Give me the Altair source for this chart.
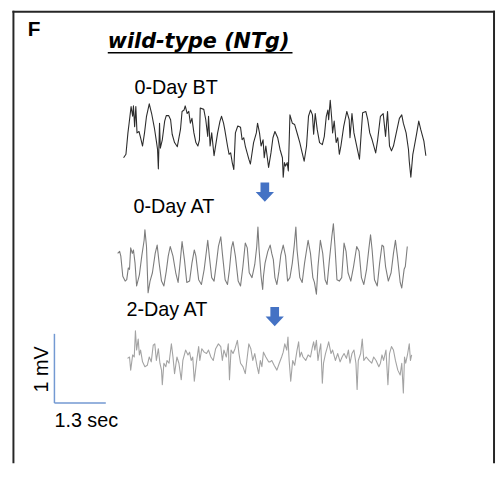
import altair as alt
import pandas as pd

# ---- EEG traces: time (s) from trace start, voltage (mV) ----
bt_t = [0, 0.06, 0.11, 0.14, 0.19, 0.23, 0.25, 0.28, 0.31, 0.34,
        0.39, 0.43, 0.48, 0.53, 0.58, 0.65, 0.71, 0.78, 0.83, 0.86,
        0.88, 0.91, 0.93, 0.98, 1.04, 1.08, 1.14, 1.19, 1.23, 1.29,
        1.36, 1.44, 1.48, 1.53, 1.56, 1.61, 1.65, 1.69, 1.73, 1.78,
        1.83, 1.88, 1.92, 1.94, 2.03, 2.08, 2.13, 2.15, 2.19, 2.23,
        2.29, 2.38, 2.44, 2.48, 2.53, 2.56, 2.63, 2.67, 2.71, 2.75,
        2.79, 2.83, 2.89, 2.96, 3.0, 3.04, 3.08, 3.17, 3.21, 3.29,
        3.36, 3.39, 3.44, 3.48, 3.53, 3.56, 3.6, 3.67, 3.73, 3.78,
        3.83, 3.9, 3.96, 4.02, 4.04, 4.07, 4.1, 4.14, 4.17, 4.21,
        4.27, 4.33, 4.4, 4.46, 4.52, 4.57, 4.63, 4.68, 4.73, 4.78,
        4.81, 4.85, 4.9, 4.96, 5.03, 5.08, 5.13, 5.17, 5.19, 5.23,
        5.27, 5.29, 5.33, 5.38, 5.42, 5.46, 5.5, 5.57, 5.65, 5.71,
        5.73, 5.78, 5.83, 5.9, 5.97, 6.02, 6.05, 6.13, 6.18, 6.23,
        6.29, 6.38, 6.43, 6.5, 6.57, 6.63, 6.68, 6.73, 6.78, 6.83,
        6.92, 6.98, 7.04, 7.08, 7.15, 7.21, 7.23, 7.27, 7.32, 7.35,
        7.42, 7.47, 7.52, 7.6, 7.65]
bt_mv = [-0.24, -0.19, 0.12, 0.26, 0.5, 0.36, 0.51, 0.21, 0.5, 0.12,
         0.14, 0.05, -0.07, 0.12, 0.36, 0.54, 0.40, 0.19, 0, -0.12,
         -0.40, 0.26, -0.10, 0.02, 0.29, 0.37, 0.37, 0.31, 0.10, -0.02,
         -0.08, 0.17, 0.43, 0.45, 0.51, 0.40, 0.43, 0.26, 0.33, 0.12,
         -0.02, -0.07, 0.02, 0.48, 0.46, 0.31, 0.07, 0.36, -0.07, 0.12,
         -0.21, 0.12, 0.29, 0.36, 0.26, 0.17, -0.07, -0.19, -0.17, -0.31,
         -0.41, 0.12, 0.22, 0.20, 0.02, 0.05, -0.07, -0.26, -0.33, -0.02,
         0.12, 0.26, 0.12, -0.07, 0.02, -0.24, -0.07, -0.38, -0.17, 0.05,
         0.14, 0.05, -0.12, -0.24, -0.52, -0.31, -0.36, -0.31, -0.43, 0.38,
         0.26, 0.24, 0.10, -0.02, -0.17, -0.29, -0.07, 0.36, 0.45, 0.38,
         0.10, 0.40, 0.17, -0.02, -0.05, 0.07, 0.36, 0.45, 0.31, 0.59,
         0.31, 0.12, 0.29, -0.02, 0.05, -0.19, -0.07, 0.21, 0.43, 0.31,
         0.05, 0.40, 0.12, -0.07, -0.26, 0.17, 0.41, 0.43, 0.31, 0.12,
         0.02, -0.17, 0.02, 0.36, 0.40, 0.07, 0.43, -0.07, -0.14, -0.07,
         0.17, 0.33, 0.38, 0.26, 0.12, -0.12, -0.29, -0.52, -0.19, -0.10,
         0.12, 0.29, 0.17, 0, -0.21]

at0_t = [0, 0.05, 0.08, 0.13, 0.19, 0.23, 0.27, 0.3, 0.33, 0.37,
         0.4, 0.44, 0.48, 0.55, 0.61, 0.67, 0.69, 0.73, 0.77, 0.82,
         0.88, 0.95, 1.0, 1.05, 1.11, 1.17, 1.23, 1.28, 1.33, 1.4,
         1.47, 1.53, 1.58, 1.63, 1.69, 1.75, 1.82, 1.88, 1.94, 1.98,
         2.05, 2.12, 2.19, 2.25, 2.28, 2.32, 2.38, 2.44, 2.5, 2.55,
         2.61, 2.65, 2.72, 2.78, 2.83, 2.88, 2.92, 2.98, 3.05, 3.11,
         3.17, 3.23, 3.28, 3.33, 3.4, 3.47, 3.52, 3.55, 3.58, 3.63,
         3.67, 3.69, 3.73, 3.8, 3.86, 3.9, 3.94, 3.98, 4.03, 4.08,
         4.13, 4.19, 4.25, 4.3, 4.36, 4.42, 4.47, 4.51, 4.54, 4.61,
         4.67, 4.73, 4.82, 4.88, 4.94, 4.98, 5.03, 5.07, 5.13, 5.19,
         5.25, 5.3, 5.36, 5.42, 5.46, 5.5, 5.55, 5.61, 5.67, 5.73,
         5.78, 5.83, 5.9, 5.97, 6.05, 6.11, 6.17, 6.23, 6.3, 6.36,
         6.4, 6.44, 6.5, 6.57, 6.63, 6.69, 6.73, 6.78, 6.85, 6.92,
         6.98, 7.03, 7.08, 7.15, 7.19, 7.25, 7.28, 7.33]
at0_mv = [0.12, 0.15, 0.08, -0.21, -0.28, -0.26, -0.09, -0.11, 0.20, 0.12,
          0.17, -0.02, -0.35, -0.19, 0.08, 0.31, 0.46, 0.22, -0.45, -0.28,
          -0.16, 0.12, 0.24, -0.02, -0.28, -0.35, -0.14, 0.08, 0.22, 0.08,
          -0.16, -0.30, -0.02, 0.29, 0.03, -0.30, -0.28, -0.02, 0.17, 0.08,
          -0.26, -0.33, -0.11, 0.17, 0.31, 0.08, -0.23, -0.28, -0.02, 0.22,
          0.36, 0.12, -0.26, -0.33, -0.11, 0.20, 0.29, 0.08, -0.28, -0.35,
          -0.07, 0.27, 0.20, -0.16, -0.23, -0.04, 0.22, 0.50, 0.17, -0.21,
          -0.40, -0.21, -0.02, 0.15, 0.24, 0.12, 0.03, -0.23, -0.33, -0.14,
          0.10, 0.24, 0.08, -0.28, -0.23, -0.02, 0.24, 0.50, 0.17, -0.23,
          -0.30, -0.02, 0.31, 0.12, -0.23, -0.30, -0.47, -0.07, 0.31, 0.12,
          -0.26, -0.33, 0.03, 0.36, 0.55, 0.22, -0.26, -0.28, -0.23, 0.27,
          0.15, -0.16, -0.28, -0.07, 0.22, 0.15, -0.23, -0.33, -0.11, 0.20,
          0.39, 0.17, -0.26, -0.35, -0.02, 0.24, 0.22, -0.07, -0.28, -0.16,
          0.12, 0.31, 0.08, -0.30, -0.38, -0.11, -0.07, 0.22]

at2_t = [0, 0.05, 0.08, 0.13, 0.17, 0.2, 0.23, 0.27, 0.3, 0.33,
         0.38, 0.44, 0.5, 0.55, 0.6, 0.65, 0.69, 0.73, 0.78, 0.82,
         0.86, 0.88, 0.92, 0.97, 1.0, 1.05, 1.11, 1.15, 1.19, 1.25,
         1.3, 1.36, 1.4, 1.47, 1.53, 1.57, 1.61, 1.65, 1.69, 1.75,
         1.8, 1.83, 1.88, 1.94, 2.0, 2.05, 2.11, 2.17, 2.23, 2.3,
         2.36, 2.4, 2.44, 2.5, 2.55, 2.58, 2.62, 2.67, 2.72, 2.78,
         2.82, 2.86, 2.92, 2.98, 3.03, 3.07, 3.12, 3.17, 3.22, 3.28,
         3.32, 3.36, 3.4, 3.44, 3.5, 3.57, 3.61, 3.65, 3.71, 3.78,
         3.84, 3.9, 3.94, 3.98, 4.03, 4.06, 4.09, 4.13, 4.18, 4.23,
         4.29, 4.33, 4.36, 4.4, 4.44, 4.51, 4.57, 4.63, 4.68, 4.71,
         4.74, 4.78, 4.82, 4.86, 4.89, 4.93, 4.96, 5.01, 5.06, 5.09,
         5.15, 5.19, 5.26, 5.32, 5.38, 5.43, 5.48, 5.54, 5.59, 5.63,
         5.68, 5.73, 5.78, 5.81, 5.84, 5.9, 5.94, 5.98, 6.04, 6.11,
         6.18, 6.23, 6.29, 6.36, 6.4, 6.44, 6.48, 6.54, 6.59, 6.63,
         6.68, 6.73, 6.78, 6.84, 6.9, 6.94, 6.98, 7.01, 7.04, 7.09,
         7.13, 7.16, 7.19]
at2_mv = [0.03, 0.05, -0.14, 0.08, 0.05, 0.43, 0.15, 0.31, 0.08, 0.15,
          -0.02, -0.09, -0.07, 0.05, -0.02, 0.22, 0.24, 0.0, 0.17, -0.04,
          -0.14, -0.35, -0.04, -0.09, 0.0, -0.04, 0.24, 0.05, -0.19, 0.05,
          -0.04, -0.28, 0.0, 0.15, 0.08, 0.12, 0.0, 0.05, -0.30, 0.0,
          0.20, 0.0, 0.17, 0.12, 0.10, 0.15, 0.05, 0.0, 0.17, 0.24,
          0.20, 0.0, 0.15, 0.05, 0.24, -0.28, 0.15, 0.10, 0.17, 0.29,
          0.10, -0.04, -0.09, -0.19, 0.05, 0.24, 0.17, 0.0, 0.10, -0.09,
          -0.19, 0.0, -0.09, 0.12, 0.05, -0.02, -0.02, 0.0, -0.07, -0.14,
          -0.04, 0.05, 0.12, 0.24, 0.15, 0.34, 0.0, -0.30, 0.0, -0.07,
          0.15, 0.27, 0.05, 0.12, 0.05, 0.0, 0.08, 0.05, 0.20, 0.27,
          0.15, 0.29, 0.0, 0.15, 0.24, -0.33, -0.04, 0.10, 0.20, 0.27,
          0.10, 0.15, 0.0, 0.10, -0.02, 0.05, 0.10, 0.03, 0.15, -0.04,
          0.10, 0.15, -0.04, -0.42, 0.0, 0.10, 0.31, 0.0, 0.05, 0.0,
          -0.04, 0.05, 0.0, -0.09, -0.04, 0.08, 0.0, 0.15, -0.35, 0.10,
          0.20, 0.15, 0.0, -0.14, -0.21, -0.04, -0.47, 0.05, -0.04, 0.10,
          0.24, 0.0, 0.08]

trace_names = ["0-Day BT", "0-Day AT", "2-Day AT"]
trace_colors = ["#2c2c2c", "#7c7c7c", "#a3a3a3"]

# scale bar values
scale_sec = 1.3
scale_mv = 1.0

# ---- layout (canvas in seconds / mV) ----
W, H = 494, 458
PX_S, PX_MV = 40.0, 70.0
trace_x0 = [2.925, 2.775, 3.025]
trace_y0 = [4.8, 3.057, 1.629]
bar_x0, bar_y0 = 1.175, 1.014

rows = []
for name, ts, vs, x0, y0 in zip(trace_names, [bt_t, at0_t, at2_t],
                                [bt_mv, at0_mv, at2_mv], trace_x0, trace_y0):
    n = min(len(ts), len(vs))
    for i in range(n):
        rows.append({"trace": name, "i": i, "time": x0 + ts[i], "mv": y0 + vs[i]})
df = pd.DataFrame(rows)

xs = alt.Scale(domain=[0, W / PX_S], nice=False, zero=False)
ys = alt.Scale(domain=[10 / PX_MV, (10 + H) / PX_MV], nice=False, zero=False)

traces = alt.Chart(df).mark_line(strokeWidth=1.1, strokeJoin="round").encode(
    x=alt.X("time:Q", scale=xs, axis=None),
    y=alt.Y("mv:Q", scale=ys, axis=None),
    color=alt.Color("trace:N", scale=alt.Scale(domain=trace_names, range=trace_colors), legend=None),
    order="i:Q",
)

sb = pd.DataFrame({
    "x": [bar_x0, bar_x0], "y": [bar_y0, bar_y0],
    "x2": [bar_x0, bar_x0 + scale_sec], "y2": [bar_y0 + scale_mv, bar_y0],
})
bar = alt.Chart(sb).mark_rule(color="#7399d2", strokeWidth=1.5).encode(
    x=alt.X("x:Q", scale=xs, axis=None), y=alt.Y("y:Q", scale=ys, axis=None),
    x2="x2:Q", y2="y2:Q",
)

one = pd.DataFrame({"k": [0]})
FONT = "Liberation Sans"

def txt(s, x, y, size=20, **kw):
    return alt.Chart(one).mark_text(text=s, font=kw.pop("font", FONT), fontSize=size,
                                    align=kw.pop("align", "left"),
                                    baseline=kw.pop("baseline", "alphabetic"),
                                    color="#000000", **kw).encode(
        x=alt.value(x), y=alt.value(y))

texts = [
    txt("F", 20, 26, 21, fontWeight="bold"),
    txt("wild-type (NTg)", 101, 38, 21, font="DejaVu Sans", fontWeight="bold", fontStyle="italic"),
    txt("0-Day BT", 128, 84, 20),
    txt("0-Day AT", 127, 205, 20),
    txt("2-Day AT", 120, 309, 20),
    txt("1 mV", 34.5, 363, 20, angle=270, align="center", baseline="middle"),
    txt("1.3 sec", 47, 421, 20),
]

underline = alt.Chart(one).mark_rule(color="#000000", strokeWidth=1.6).encode(
    x=alt.value(101), x2=alt.value(288), y=alt.value(42.5))

frame_col = "#262626"
frame = [
    alt.Chart(one).mark_rule(color=frame_col, strokeWidth=2).encode(
        x=alt.value(5.5), y=alt.value(0), y2=alt.value(H)),
    alt.Chart(one).mark_rule(color=frame_col, strokeWidth=2).encode(
        x=alt.value(4.5), x2=alt.value(493), y=alt.value(1)),
    alt.Chart(one).mark_rule(color=frame_col, strokeWidth=2).encode(
        x=alt.value(492), y=alt.value(0), y2=alt.value(H)),
]

arrow_path = "M-0.45,-1 L0.45,-1 L0.45,0 L0.95,0 L0,1 L-0.95,0 L-0.45,0 Z"
arrows = [
    alt.Chart(one).mark_point(shape=arrow_path, filled=True, size=380, color="#4472C4",
                              opacity=1, strokeWidth=0).encode(x=alt.value(260), y=alt.value(183.5)),
    alt.Chart(one).mark_point(shape=arrow_path, filled=True, size=380, color="#4472C4",
                              opacity=1, strokeWidth=0).encode(x=alt.value(270), y=alt.value(309.5)),
]

chart = alt.layer(traces, bar, underline, *texts, *frame, *arrows).properties(
    width=W, height=H, padding=0, autosize=alt.AutoSizeParams(type="none")
).configure_view(stroke=None)

chart.save("out.html", embed_options={"renderer": "svg", "actions": False})
